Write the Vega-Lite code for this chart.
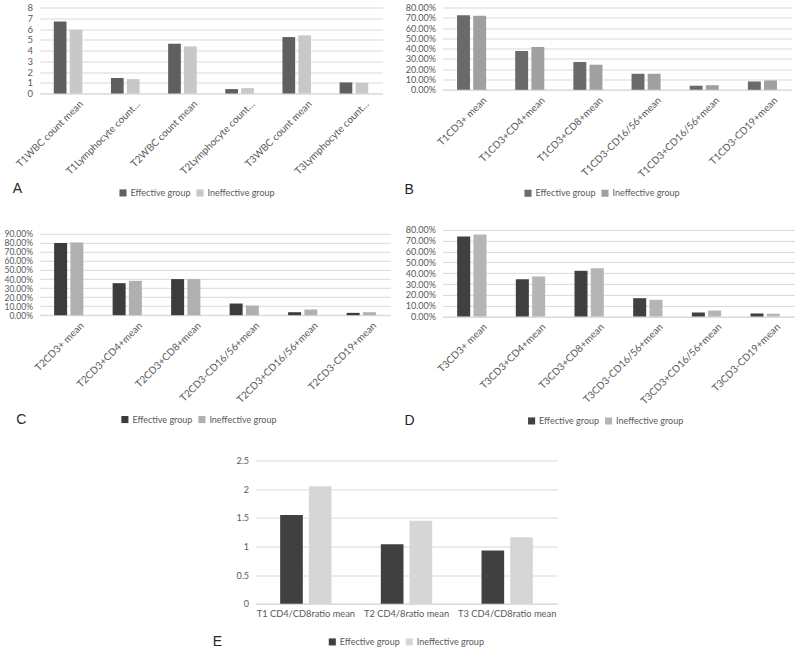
{
  "$schema": "https://vega.github.io/schema/vega-lite/v6.json",
  "padding": {"left": 3.5, "top": 2.5, "right": 0, "bottom": 0},
  "background": "white",
  "config": {
    "view": {"stroke": null},
    "font": "Lato",
    "bar": {"strokeWidth": 0},
    "axis": {"labelFont": "Lato", "labelColor": "#595959", "title": null, "ticks": false},
    "legend": {"labelFont": "Lato", "titleFont": "Liberation Sans"}
  },
  "spacing": 28,
  "resolve": {"scale": {"color": "independent", "xOffset": "independent", "x": "independent", "y": "independent"}, "legend": {"color": "independent"}},
  "vconcat": [
    {
      "spacing": 14,
      "resolve": {"scale": {"color": "independent", "xOffset": "independent", "x": "independent", "y": "independent"}, "legend": {"color": "independent"}},
      "hconcat": [
        {
          "bounds": "flush",
          "spacing": 140.3,
          "resolve": {"scale": {"color": "independent", "xOffset": "independent", "x": "independent", "y": "independent"}, "legend": {"color": "independent"}},
          "vconcat": [
            {
              "width": 343, "height": 86,
              "data": {"values": [
                {"item": "T1WBC count mean", "group": "Effective group", "value": 6.69},
                {"item": "T1WBC count mean", "group": "Ineffective group", "value": 5.94},
                {"item": "T1Lymphocyte count mean", "group": "Effective group", "value": 1.44},
                {"item": "T1Lymphocyte count mean", "group": "Ineffective group", "value": 1.34},
                {"item": "T2WBC count mean", "group": "Effective group", "value": 4.63},
                {"item": "T2WBC count mean", "group": "Ineffective group", "value": 4.38},
                {"item": "T2Lymphocyte count mean", "group": "Effective group", "value": 0.41},
                {"item": "T2Lymphocyte count mean", "group": "Ineffective group", "value": 0.5},
                {"item": "T3WBC count mean", "group": "Effective group", "value": 5.25},
                {"item": "T3WBC count mean", "group": "Ineffective group", "value": 5.41},
                {"item": "T3Lymphocyte count mean", "group": "Effective group", "value": 1.03},
                {"item": "T3Lymphocyte count mean", "group": "Ineffective group", "value": 1.0}
              ]},
              "mark": {"type": "bar"},
              "encoding": {
                "x": {"field": "item", "type": "nominal", "sort": null, "scale": {"paddingInner": 0.5, "paddingOuter": 0.25},
                  "axis": {"labelAngle": -45, "labelAlign": "right", "labelBaseline": "top", "labelOffset": 10, "labelPadding": 5, "labelFontSize": 10, "labelLimit": 100, "domainColor": "#d9d9d9"}},
                "xOffset": {"field": "group", "type": "nominal", "sort": ["Effective group", "Ineffective group"], "scale": {"paddingInner": 0.2}},
                "y": {"field": "value", "type": "quantitative", "scale": {"domain": [0, 8]},
                  "axis": {"values": [0, 1, 2, 3, 4, 5, 6, 7, 8], "grid": true, "gridColor": "#d9d9d9", "domain": false, "labelPadding": 7, "labelFontSize": 9.5}},
                "color": {"field": "group", "type": "nominal", "scale": {"domain": ["Effective group", "Ineffective group"], "range": ["#5f5f5f", "#c8c8c8"]},
                  "legend": {"orient": "none", "legendX": -26.7, "legendY": 180.7, "direction": "horizontal", "title": "A", "titleOrient": "left", "titlePadding": 95.7, "titleFontSize": 14, "titleFontWeight": "normal", "titleColor": "#262626", "titleBaseline": "alphabetic", "symbolType": "square", "symbolSize": 50, "symbolStrokeWidth": 0, "labelFontSize": 9, "labelColor": "#595959", "columnPadding": 5, "labelOffset": 3}}
              }
            },
            {
              "width": 351, "height": 81.4,
              "data": {"values": [
                {"item": "T2CD3+ mean", "group": "Effective group", "value": 0.797},
                {"item": "T2CD3+ mean", "group": "Ineffective group", "value": 0.804},
                {"item": "T2CD3+CD4+mean", "group": "Effective group", "value": 0.354},
                {"item": "T2CD3+CD4+mean", "group": "Ineffective group", "value": 0.38},
                {"item": "T2CD3+CD8+mean", "group": "Effective group", "value": 0.399},
                {"item": "T2CD3+CD8+mean", "group": "Ineffective group", "value": 0.399},
                {"item": "T2CD3-CD16/56+mean", "group": "Effective group", "value": 0.129},
                {"item": "T2CD3-CD16/56+mean", "group": "Ineffective group", "value": 0.107},
                {"item": "T2CD3+CD16/56+mean", "group": "Effective group", "value": 0.033},
                {"item": "T2CD3+CD16/56+mean", "group": "Ineffective group", "value": 0.063},
                {"item": "T2CD3-CD19+mean", "group": "Effective group", "value": 0.026},
                {"item": "T2CD3-CD19+mean", "group": "Ineffective group", "value": 0.033}
              ]},
              "mark": {"type": "bar"},
              "encoding": {
                "x": {"field": "item", "type": "nominal", "sort": null, "scale": {"paddingInner": 0.5, "paddingOuter": 0.25},
                  "axis": {"labelAngle": -45, "labelAlign": "right", "labelBaseline": "top", "labelOffset": 10, "labelPadding": 5, "labelFontSize": 10, "labelLimit": 140, "domainColor": "#d9d9d9"}},
                "xOffset": {"field": "group", "type": "nominal", "sort": ["Effective group", "Ineffective group"], "scale": {"paddingInner": 0.2}},
                "y": {"field": "value", "type": "quantitative", "scale": {"domain": [0, 0.9]},
                  "axis": {"values": [0, 0.1, 0.2, 0.3, 0.4, 0.5, 0.6, 0.7, 0.8, 0.9], "format": ".2%", "grid": true, "gridColor": "#d9d9d9", "domain": false, "labelPadding": 7, "labelFontSize": 8.5}},
                "color": {"field": "group", "type": "nominal", "scale": {"domain": ["Effective group", "Ineffective group"], "range": ["#3c3c3c", "#b0b0b0"]},
                  "legend": {"orient": "none", "legendX": -23.3, "legendY": 181, "direction": "horizontal", "title": "C", "titleOrient": "left", "titlePadding": 93.2, "titleFontSize": 14, "titleFontWeight": "normal", "titleColor": "#262626", "titleBaseline": "middle", "symbolType": "square", "symbolSize": 50, "symbolStrokeWidth": 0, "labelFontSize": 9, "labelColor": "#595959", "columnPadding": 5, "labelOffset": 3}}
              }
            }
          ]
        },
        {
          "bounds": "flush",
          "spacing": 139.4,
          "resolve": {"scale": {"color": "independent", "xOffset": "independent", "x": "independent", "y": "independent"}, "legend": {"color": "independent"}},
          "vconcat": [
            {
              "width": 349, "height": 82.3,
              "data": {"values": [
                {"item": "T1CD3+ mean", "group": "Effective group", "value": 0.725},
                {"item": "T1CD3+ mean", "group": "Ineffective group", "value": 0.719},
                {"item": "T1CD3+CD4+mean", "group": "Effective group", "value": 0.377},
                {"item": "T1CD3+CD4+mean", "group": "Ineffective group", "value": 0.416},
                {"item": "T1CD3+CD8+mean", "group": "Effective group", "value": 0.27},
                {"item": "T1CD3+CD8+mean", "group": "Ineffective group", "value": 0.244},
                {"item": "T1CD3-CD16/56+mean", "group": "Effective group", "value": 0.156},
                {"item": "T1CD3-CD16/56+mean", "group": "Ineffective group", "value": 0.156},
                {"item": "T1CD3+CD16/56+mean", "group": "Effective group", "value": 0.039},
                {"item": "T1CD3+CD16/56+mean", "group": "Ineffective group", "value": 0.045},
                {"item": "T1CD3-CD19+mean", "group": "Effective group", "value": 0.081},
                {"item": "T1CD3-CD19+mean", "group": "Ineffective group", "value": 0.091}
              ]},
              "mark": {"type": "bar"},
              "encoding": {
                "x": {"field": "item", "type": "nominal", "sort": null, "scale": {"paddingInner": 0.5, "paddingOuter": 0.25},
                  "axis": {"labelAngle": -45, "labelAlign": "right", "labelBaseline": "top", "labelOffset": 10, "labelPadding": 5, "labelFontSize": 10, "labelLimit": 140, "domainColor": "#d9d9d9"}},
                "xOffset": {"field": "group", "type": "nominal", "sort": ["Effective group", "Ineffective group"], "scale": {"paddingInner": 0.2}},
                "y": {"field": "value", "type": "quantitative", "scale": {"domain": [0, 0.8]},
                  "axis": {"values": [0, 0.1, 0.2, 0.3, 0.4, 0.5, 0.6, 0.7, 0.8], "format": ".2%", "grid": true, "gridColor": "#d9d9d9", "domain": false, "labelPadding": 7, "labelFontSize": 9}},
                "color": {"field": "group", "type": "nominal", "scale": {"domain": ["Effective group", "Ineffective group"], "range": ["#6a6a6a", "#a0a0a0"]},
                  "legend": {"orient": "none", "legendX": -38, "legendY": 181, "direction": "horizontal", "title": "B", "titleOrient": "left", "titlePadding": 109, "titleFontSize": 14, "titleFontWeight": "normal", "titleColor": "#262626", "titleBaseline": "alphabetic", "symbolType": "square", "symbolSize": 50, "symbolStrokeWidth": 0, "labelFontSize": 9, "labelColor": "#595959", "columnPadding": 5, "labelOffset": 3}}
              }
            },
            {
              "width": 352, "height": 86.6,
              "data": {"values": [
                {"item": "T3CD3+ mean", "group": "Effective group", "value": 0.738},
                {"item": "T3CD3+ mean", "group": "Ineffective group", "value": 0.757},
                {"item": "T3CD3+CD4+mean", "group": "Effective group", "value": 0.345},
                {"item": "T3CD3+CD4+mean", "group": "Ineffective group", "value": 0.369},
                {"item": "T3CD3+CD8+mean", "group": "Effective group", "value": 0.422},
                {"item": "T3CD3+CD8+mean", "group": "Ineffective group", "value": 0.446},
                {"item": "T3CD3-CD16/56+mean", "group": "Effective group", "value": 0.169},
                {"item": "T3CD3-CD16/56+mean", "group": "Ineffective group", "value": 0.154},
                {"item": "T3CD3+CD16/56+mean", "group": "Effective group", "value": 0.037},
                {"item": "T3CD3+CD16/56+mean", "group": "Ineffective group", "value": 0.055},
                {"item": "T3CD3-CD19+mean", "group": "Effective group", "value": 0.028},
                {"item": "T3CD3-CD19+mean", "group": "Ineffective group", "value": 0.026}
              ]},
              "mark": {"type": "bar"},
              "encoding": {
                "x": {"field": "item", "type": "nominal", "sort": null, "scale": {"paddingInner": 0.5, "paddingOuter": 0.25},
                  "axis": {"labelAngle": -45, "labelAlign": "right", "labelBaseline": "top", "labelOffset": 10, "labelPadding": 5, "labelFontSize": 10, "labelLimit": 140, "domainColor": "#d9d9d9"}},
                "xOffset": {"field": "group", "type": "nominal", "sort": ["Effective group", "Ineffective group"], "scale": {"paddingInner": 0.2}},
                "y": {"field": "value", "type": "quantitative", "scale": {"domain": [0, 0.8]},
                  "axis": {"values": [0, 0.1, 0.2, 0.3, 0.4, 0.5, 0.6, 0.7, 0.8], "format": ".2%", "grid": true, "gridColor": "#d9d9d9", "domain": false, "labelPadding": 7, "labelFontSize": 9}},
                "color": {"field": "group", "type": "nominal", "scale": {"domain": ["Effective group", "Ineffective group"], "range": ["#404040", "#b5b5b5"]},
                  "legend": {"orient": "none", "legendX": -38, "legendY": 186.3, "direction": "horizontal", "title": "D", "titleOrient": "left", "titlePadding": 111.6, "titleFontSize": 14, "titleFontWeight": "normal", "titleColor": "#262626", "titleBaseline": "middle", "symbolType": "square", "symbolSize": 50, "symbolStrokeWidth": 0, "labelFontSize": 9, "labelColor": "#595959", "columnPadding": 5, "labelOffset": 3}}
              }
            }
          ]
        }
      ]
    },
    {
      "bounds": "flush",
      "spacing": 0,
      "resolve": {"scale": {"color": "independent", "xOffset": "independent", "x": "independent", "y": "independent"}, "legend": {"color": "independent"}},
      "hconcat": [
        {"width": 216, "height": 10, "data": {"values": []}, "mark": "point", "encoding": {}},
        {
          "width": 302, "height": 143.3,
          "data": {"values": [
            {"item": "T1 CD4/CD8ratio mean", "group": "Effective group", "value": 1.55},
            {"item": "T1 CD4/CD8ratio mean", "group": "Ineffective group", "value": 2.05},
            {"item": "T2 CD4/8ratio mean", "group": "Effective group", "value": 1.04},
            {"item": "T2 CD4/8ratio mean", "group": "Ineffective group", "value": 1.45},
            {"item": "T3 CD4/CD8ratio mean", "group": "Effective group", "value": 0.93},
            {"item": "T3 CD4/CD8ratio mean", "group": "Ineffective group", "value": 1.16}
          ]},
          "mark": {"type": "bar"},
          "encoding": {
            "x": {"field": "item", "type": "nominal", "sort": null, "scale": {"paddingInner": 0.49, "paddingOuter": 0.245},
              "axis": {"labelAngle": 0, "labelPadding": 6, "labelFontSize": 9.3, "domainColor": "#d9d9d9"}},
            "xOffset": {"field": "group", "type": "nominal", "sort": ["Effective group", "Ineffective group"], "scale": {"paddingInner": 0.21}},
            "y": {"field": "value", "type": "quantitative", "scale": {"domain": [0, 2.5]},
              "axis": {"values": [0, 0.5, 1, 1.5, 2, 2.5], "format": "~g", "grid": true, "gridColor": "#d9d9d9", "domain": false, "labelPadding": 7, "labelFontSize": 9}},
            "color": {"field": "group", "type": "nominal", "scale": {"domain": ["Effective group", "Ineffective group"], "range": ["#404040", "#d6d6d6"]},
              "legend": {"orient": "none", "legendX": -42.7, "legendY": 176.7, "direction": "horizontal", "title": "E", "titleOrient": "left", "titlePadding": 105, "titleFontSize": 14, "titleFontWeight": "normal", "titleColor": "#262626", "titleBaseline": "middle", "symbolType": "square", "symbolSize": 50, "symbolStrokeWidth": 0, "labelFontSize": 9, "labelColor": "#595959", "columnPadding": 5, "labelOffset": 3}}
          }
        }
      ]
    }
  ]
}
